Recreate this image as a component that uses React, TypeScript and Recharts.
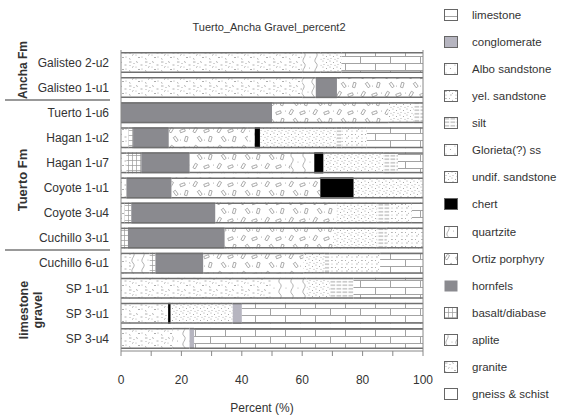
import { Bar, BarChart, Legend, ReferenceLine, XAxis, YAxis } from "recharts";

const FONT = "'Liberation Sans', Arial, Helvetica, sans-serif";

// sample units, top to bottom
const categories = [
  "Galisteo 2-u2",
  "Galisteo 1-u1",
  "Tuerto 1-u6",
  "Hagan 1-u2",
  "Hagan 1-u7",
  "Coyote 1-u1",
  "Coyote 3-u4",
  "Cuchillo 3-u1",
  "Cuchillo 6-u1",
  "SP 1-u1",
  "SP 3-u1",
  "SP 3-u4",
];

// percent of clasts per lithology, same order as categories
const gneissSchist = [0, 0, 0, 0, 0, 0, 0, 0, 0, 0, 0, 0];
const granite = [60, 60, 0, 2.5, 1.8, 1.8, 1.2, 0, 3.3, 50, 15.6, 17];
const aplite = [0, 4.5, 0, 0, 0, 0, 0, 0, 6.2, 0, 0, 0];
const basaltDiabase = [0, 0, 0, 1.5, 4.9, 0, 2.2, 2.3, 1.9, 0, 0, 0];
const hornfels = [0, 7, 50, 11.8, 16, 14.9, 27.8, 32, 15.8, 0, 0, 0];
const ortizPorphyry = [0, 28.5, 38.5, 26.2, 33.3, 49.3, 40.2, 36, 33.2, 0, 0, 0];
const quartzite = [6, 0, 0, 2.3, 8, 0, 0, 0, 0, 11.5, 0, 5.7];
const chert = [0, 0, 0, 1.7, 3, 11, 0, 0, 0, 0, 0.8, 0];
const undifSandstone = [7, 0, 8.5, 25.4, 19.8, 23, 13.3, 14.4, 7.1, 7.7, 20.6, 0];
const glorietaSs = [0, 0, 0, 0, 0, 0, 0, 0, 0, 0, 0, 0];
const silt = [0, 0, 3, 1.6, 4.9, 0, 4.3, 3.3, 1.5, 7.8, 0, 0];
const yelSandstone = [0, 0, 0, 8.4, 0, 0, 7.3, 12, 16.8, 0, 0, 0];
const alboSandstone = [0, 0, 0, 0, 0, 0, 0, 0, 0, 0, 0, 0];
const conglomerate = [0, 0, 0, 0, 0, 0, 0, 0, 0, 0, 3, 1.5];
const limestone = [27, 0, 0, 18.6, 8.3, 0, 3.7, 0, 14.2, 23, 60, 75.8];

const xTicks = [0, 10, 20, 30, 40, 50, 60, 70, 80, 90, 100];

type Series = { key: string; label: string; values: number[]; fill: string; border: boolean };

// stacking order, left to right
const series: Series[] = [
  { key: "gneiss", label: "gneiss & schist", values: gneissSchist, fill: "#fff", border: true },
  { key: "granite", label: "granite", values: granite, fill: "url(#pat-granite)", border: true },
  { key: "aplite", label: "aplite", values: aplite, fill: "url(#pat-aplite)", border: true },
  { key: "basalt", label: "basalt/diabase", values: basaltDiabase, fill: "url(#pat-grid)", border: true },
  { key: "hornfels", label: "hornfels", values: hornfels, fill: "#8a8a8f", border: false },
  { key: "porphyry", label: "Ortiz porphyry", values: ortizPorphyry, fill: "url(#pat-porphyry)", border: true },
  { key: "quartzite", label: "quartzite", values: quartzite, fill: "url(#pat-wavy)", border: true },
  { key: "chert", label: "chert", values: chert, fill: "#000", border: true },
  { key: "undif", label: "undif. sandstone", values: undifSandstone, fill: "url(#pat-dots)", border: true },
  { key: "glorieta", label: "Glorieta(?) ss", values: glorietaSs, fill: "url(#pat-dots2)", border: true },
  { key: "silt", label: "silt", values: silt, fill: "url(#pat-silt)", border: true },
  { key: "yel", label: "yel. sandstone", values: yelSandstone, fill: "url(#pat-yel)", border: true },
  { key: "albo", label: "Albo sandstone", values: alboSandstone, fill: "url(#pat-dots2)", border: true },
  { key: "conglomerate", label: "conglomerate", values: conglomerate, fill: "#b6b5c0", border: true },
  { key: "limestone", label: "limestone", values: limestone, fill: "url(#pat-brick)", border: true },
];

const chartData = categories.map((name, i) => {
  const row: Record<string, string | number> = { name };
  for (const s of series) row[s.key] = s.values[i];
  return row;
});

function Patterns() {
  const c = "#9a9a9a";
  return (
    <svg width={0} height={0} style={{ position: "absolute" }}>
      <defs>
        <pattern id="pat-granite" width={16} height={12} patternUnits="userSpaceOnUse">
          <path
            d="M1 2h2.5M8 1.5l1.8 1M12.5 5h2M4 7.5l1.5-1M10 9.5h2M1 10.5l1.5 .8"
            stroke={c}
            strokeWidth={0.8}
            fill="none"
          />
          <circle cx={6} cy={3.5} r={0.55} fill={c} />
          <circle cx={14} cy={9} r={0.55} fill={c} />
          <circle cx={8} cy={7} r={0.5} fill={c} />
          <circle cx={2} cy={5.5} r={0.5} fill={c} />
        </pattern>
        <pattern id="pat-dots" width={7} height={6} patternUnits="userSpaceOnUse">
          <circle cx={1} cy={1} r={0.55} fill={c} />
          <circle cx={4.5} cy={2.5} r={0.55} fill={c} />
          <circle cx={2} cy={4.5} r={0.5} fill={c} />
          <circle cx={6} cy={5.2} r={0.5} fill={c} />
        </pattern>
        <pattern id="pat-dots2" width={9} height={8} patternUnits="userSpaceOnUse">
          <circle cx={2} cy={2} r={0.6} fill={c} />
          <circle cx={6.5} cy={5.5} r={0.6} fill={c} />
        </pattern>
        <pattern id="pat-yel" width={10} height={7} patternUnits="userSpaceOnUse">
          <path d="M1 1.5h1.8M6 5h1.8" stroke={c} strokeWidth={0.7} />
          <circle cx={5.5} cy={1.5} r={0.5} fill={c} />
          <circle cx={2} cy={5} r={0.5} fill={c} />
          <circle cx={8.5} cy={3.2} r={0.5} fill={c} />
        </pattern>
        <pattern id="pat-porphyry" width={24} height={18} patternUnits="userSpaceOnUse">
          <g fill="none" stroke="#a0a0a0" strokeWidth={0.8}>
            <rect x={2} y={1.5} width={2.5} height={5} transform="rotate(30 3.2 4)" />
            <rect x={12} y={3.5} width={5} height={2.5} transform="rotate(-20 14.5 4.7)" />
            <rect x={6.5} y={10.5} width={2.5} height={5} transform="rotate(-35 7.7 13)" />
            <rect x={17} y={10.5} width={2.5} height={5} transform="rotate(15 18.2 13)" />
          </g>
          <circle cx={21.5} cy={3} r={0.5} fill={c} />
          <circle cx={12.5} cy={14} r={0.5} fill={c} />
        </pattern>
        <pattern id="pat-wavy" width={12} height={21} patternUnits="userSpaceOnUse">
          <path d="M4 0C8 3.5 0 7 4 10.5C8 14 0 17.5 4 21" stroke={c} strokeWidth={0.8} fill="none" />
          <circle cx={9.5} cy={5} r={0.5} fill={c} />
          <circle cx={10} cy={15} r={0.5} fill={c} />
        </pattern>
        <pattern id="pat-aplite" width={10} height={21} patternUnits="userSpaceOnUse">
          <path d="M3 0C7 4 -1 7 3 11C7 15 -1 17 3 21" stroke={c} strokeWidth={0.8} fill="none" />
          <circle cx={8} cy={8} r={0.5} fill={c} />
        </pattern>
        <pattern id="pat-grid" width={4} height={5} patternUnits="userSpaceOnUse">
          <path d="M0.5 0V5M0 0.5H4" stroke={c} strokeWidth={0.7} />
        </pattern>
        <pattern id="pat-silt" width={6} height={3.5} patternUnits="userSpaceOnUse">
          <path d="M0.5 1.75H5.2" stroke="#888" strokeWidth={0.8} />
        </pattern>
        <pattern id="pat-brick" width={30} height={14} patternUnits="userSpaceOnUse">
          <path d="M0 0.5H30M0 7.5H30M0.5 0.5V7.5M15.5 7.5V14" stroke="#a3a3a3" strokeWidth={1} fill="none" />
        </pattern>
      </defs>
    </svg>
  );
}

function Segment(props: any) {
  const { x, y, width, height, fill } = props;
  if (!width || width <= 0) return null;
  return (
    <g>
      <rect x={x} y={y} width={width} height={height} fill={fill} />
      <line x1={x} x2={x + width} y1={y + 0.75} y2={y + 0.75} stroke="#707070" strokeWidth={1.5} />
      <line x1={x} x2={x + width} y1={y + height - 0.75} y2={y + height - 0.75} stroke="#707070" strokeWidth={1.5} />
    </g>
  );
}

function LithologyLegend() {
  const items = [...series].reverse();
  return (
    <div style={{ paddingTop: 1.5, fontFamily: FONT, fontSize: 11.5, color: "#333" }}>
      {items.map((s) => (
        <div key={s.key} style={{ height: 27.07, display: "flex", alignItems: "center" }}>
          <svg width={14} height={12} style={{ marginLeft: 4, marginRight: 14, flex: "none" }}>
            <rect
              x={0.5}
              y={0.5}
              width={13}
              height={11}
              fill={s.fill}
              stroke={s.border ? "#666" : "none"}
            />
          </svg>
          <span style={{ whiteSpace: "nowrap" }}>{s.label}</span>
        </div>
      ))}
    </div>
  );
}

function Annotations() {
  const text = { fontFamily: FONT, fill: "#333" };
  return (
    <svg width={564} height={419} style={{ position: "absolute", left: 0, top: 0, pointerEvents: "none" }}>
      <text x={269} y={31} textAnchor="middle" fontSize={11} {...text}>
        Tuerto_Ancha Gravel_percent2
      </text>
      <text transform="translate(26.5,70) rotate(-90)" textAnchor="middle" fontSize={12} fontWeight="bold" {...text}>
        Ancha Fm
      </text>
      <text transform="translate(27,180) rotate(-90)" textAnchor="middle" fontSize={13} fontWeight="bold" {...text}>
        Tuerto Fm
      </text>
      <text transform="translate(27.5,310) rotate(-90)" textAnchor="middle" fontSize={12.5} fontWeight="bold" {...text}>
        limestone
      </text>
      <text transform="translate(42,310) rotate(-90)" textAnchor="middle" fontSize={12.5} fontWeight="bold" {...text}>
        gravel
      </text>
      <line x1={5} x2={110} y1={100} y2={100} stroke="#777" strokeWidth={1.5} />
      <line x1={5} x2={110} y1={250} y2={250} stroke="#777" strokeWidth={1.5} />
    </svg>
  );
}

export default function App() {
  return (
    <div style={{ position: "absolute", left: 0, top: 0, width: 564, height: 419, background: "#fff" }}>
      <Patterns />
      <BarChart
        width={564}
        height={419}
        data={chartData}
        layout="vertical"
        barSize={21}
        margin={{ top: 50, right: 17, bottom: 8, left: 11 }}
      >
        <XAxis
          xAxisId="bottom"
          type="number"
          domain={[0, 100]}
          ticks={xTicks}
          interval={0}
          height={60}
          stroke="#888"
          tickSize={5}
          tickMargin={19}
          tick={{ fill: "#333", fontSize: 12, fontFamily: FONT }}
          tickFormatter={(v: number) => (v % 20 === 0 ? String(v) : "")}
          label={{ value: "Percent (%)", position: "insideBottom", offset: -1, dx: -10, fill: "#333", fontSize: 12, fontFamily: FONT }}
        />
        <XAxis
          xAxisId="top"
          orientation="top"
          type="number"
          domain={[0, 100]}
          ticks={xTicks}
          interval={0}
          height={0}
          stroke="#888"
          tickSize={4}
          tickFormatter={() => ""}
        />
        <YAxis
          type="category"
          dataKey="name"
          width={110}
          stroke="#888"
          tickLine={false}
          tickSize={0}
          tickMargin={12}
          tick={{ fill: "#333", fontSize: 12, fontFamily: FONT }}
        />
        <ReferenceLine xAxisId="bottom" x={100} stroke="#888" />
        <Legend
          layout="vertical"
          align="right"
          verticalAlign="top"
          width={124}
          wrapperStyle={{ top: 0, left: 440, right: "auto" }}
          content={() => <LithologyLegend />}
        />
        {series.map((s) => (
          <Bar
            key={s.key}
            xAxisId="bottom"
            dataKey={s.key}
            name={s.label}
            stackId="litho"
            fill={s.fill}
            shape={(p: any) => <Segment {...p} />}
            isAnimationActive={false}
          />
        ))}
      </BarChart>
      <Annotations />
    </div>
  );
}
